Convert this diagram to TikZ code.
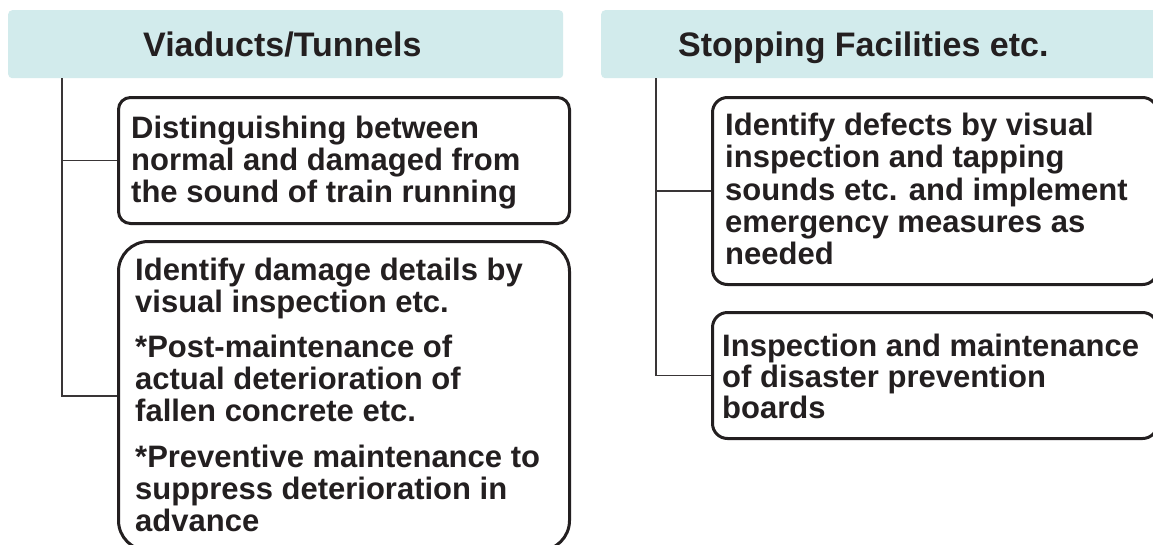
\documentclass[tikz,border=0pt]{standalone}
\usepackage{fontspec}
\setmainfont{Liberation Sans}
\definecolor{headfill}{HTML}{D2EBEC}
\definecolor{ink}{HTML}{231F20}
\begin{document}
\begin{tikzpicture}[x=1pt,y=-1pt,
  head/.style={fill=headfill, draw=none, rounded corners=4pt, anchor=north west, inner sep=0pt},
  headtext/.style={anchor=base west, inner sep=0pt, text=ink,
    font=\fontsize{34}{40}\selectfont\bfseries},
  itembox/.style={draw=ink, line width=3pt, anchor=north west, inner sep=0pt},
  trunk/.style={draw=ink!90, line width=1.3pt},
  line/.style={anchor=base west, inner sep=0pt, text=ink,
    font=\fontsize{31}{32}\selectfont\bfseries},
]
\useasboundingbox (0,0) rectangle (1153,544);
\fill[white] (0,0) rectangle (1153,544);

% ---------- column headers ----------
\node[head, minimum width=555pt, minimum height=68pt] (h1) at (8,10) {};
\node[head, minimum width=570pt, minimum height=68pt] (h2) at (601,10) {};
\node[headtext] (h1t) at (143,56) {Viaducts/Tunnels};
\node[headtext] (h2t) at (678,56) {Stopping Facilities etc.};

% ---------- left column boxes ----------
\node[itembox, rounded corners=12pt, minimum width=451pt, minimum height=126pt] (b1) at (117,96) {};
\node[itembox, rounded corners=30pt, minimum width=451pt, minimum height=309pt] (b2) at (117,240) {};

\node[line] (b1l1) at (131,138) {Distinguishing between};
\node[line] (b1l2) at (131,170) {normal and damaged from};
\node[line] (b1l3) at (131,202) {the sound of train running};

\node[line] (b2l1) at (135,280) {Identify damage details by};
\node[line] (b2l2) at (135,312) {visual inspection etc.};
\node[line] (b2l3) at (135,357) {*Post-maintenance of};
\node[line] (b2l4) at (135,389) {actual deterioration of};
\node[line] (b2l5) at (135,421) {fallen concrete etc.};
\node[line] (b2l6) at (135,467) {*Preventive maintenance to};
\node[line] (b2l7) at (135,499) {suppress deterioration in};
\node[line] (b2l8) at (135,531) {advance};

% ---------- right column boxes ----------
\node[itembox, rounded corners=15pt, minimum width=445pt, minimum height=187pt] (b3) at (711,96) {};
\node[itembox, rounded corners=15pt, minimum width=445pt, minimum height=126pt] (b4) at (711,311) {};

\node[line] (b3l1) at (725,135) {Identify defects by visual};
\node[line] (b3l2) at (725,167.5) {inspection and tapping};
\node[line] (b3l3) at (725,200) {sounds etc. and implement};
\node[line] (b3l4) at (725,232) {emergency measures as};
\node[line] (b3l5) at (725,264) {needed};

\node[line] (b4l1) at (722,356) {Inspection and maintenance};
\node[line] (b4l2) at (722,387) {of disaster prevention};
\node[line] (b4l3) at (722,418) {boards};

% ---------- tree connectors ----------
\coordinate (t1) at (62,78);
\coordinate (t2) at (656,78);
\draw[trunk] (t1) |- (b2.west);
\draw[trunk] (t1 |- b1.west) -- (b1.west);
\draw[trunk] (t2) |- (b4.west);
\draw[trunk] (t2 |- b3.west) -- (b3.west);
\end{tikzpicture}
\end{document}
